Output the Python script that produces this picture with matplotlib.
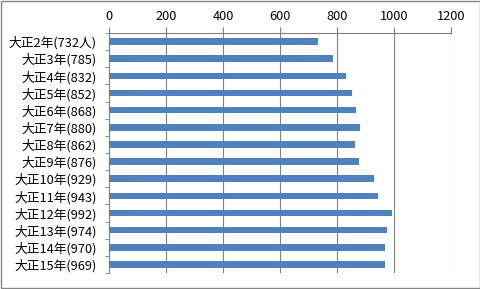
import numpy as np
import matplotlib.pyplot as plt
from matplotlib.patches import Rectangle

plt.rcParams['font.family'] = ['Noto Sans CJK JP', 'DejaVu Sans']

labels = ['大正2年(732人)', '大正3年(785)', '大正4年(832)', '大正5年(852)',
          '大正6年(868)', '大正7年(880)', '大正8年(862)', '大正9年(876)',
          '大正10年(929)', '大正11年(943)', '大正12年(992)', '大正13年(974)',
          '大正14年(970)', '大正15年(969)']
values = [732, 785, 832, 852, 868, 880, 862, 876, 929, 943, 992, 974, 970, 969]
xticks = [0, 200, 400, 600, 800, 1000, 1200]

fig = plt.figure(figsize=(4.81, 2.89), dpi=100)
ax = fig.add_axes([109/481, 1 - 273/289, (451-109)/481, (273-33)/289])

y = np.arange(len(values))
ax.barh(y, values, height=0.38, color='#4F81BD', zorder=3)

ax.set_xlim(0, 1200)
ax.set_ylim(len(values) - 0.5, -0.5)
ax.set_xticks(xticks)
ax.xaxis.tick_top()
ax.tick_params(axis='x', length=4, color='#808080', labelsize=9.2, pad=3)
ax.grid(axis='x', color='#808080', linewidth=0.8, zorder=0)

ax.set_yticks(y)
ax.set_yticklabels(labels, fontsize=9.2)
ax.tick_params(axis='y', which='major', length=0, pad=9)
ax.set_yticks(np.arange(len(values) + 1) - 0.5, minor=True)
ax.tick_params(axis='y', which='minor', length=3, color='#808080')

for s in ['right', 'bottom']:
    ax.spines[s].set_visible(False)
for s in ['left', 'top']:
    ax.spines[s].set_color('#808080')
    ax.spines[s].set_linewidth(0.8)

fig.patches.append(Rectangle((0.002, 0.003), 0.995, 0.994, transform=fig.transFigure,
                             fill=False, edgecolor='#868686', linewidth=1))

fig.savefig('out.png', dpi=100)
